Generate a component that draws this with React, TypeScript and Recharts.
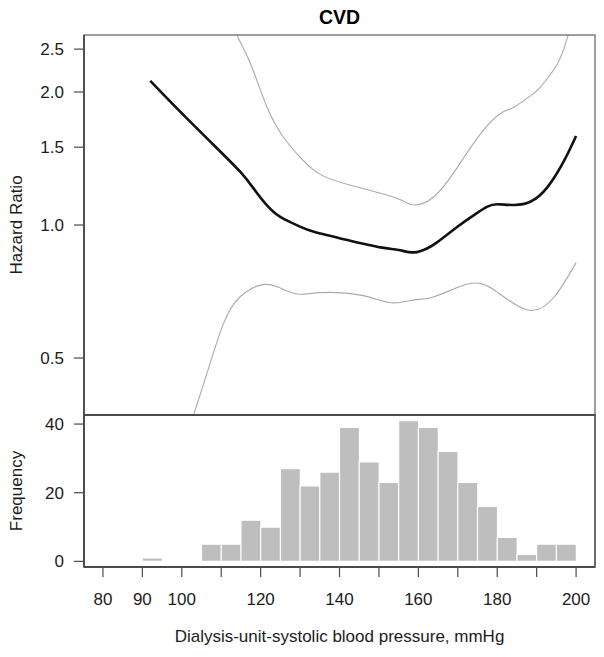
import React from 'react';
import { LineChart, Line, XAxis, YAxis, ComposedChart, Bar, ReferenceArea, ReferenceLine } from 'recharts';

// ---- Data ----
// Hazard ratio estimate (black line)
const estBp = [92.0, 97.9, 106.4, 114.8, 119.1, 123.3, 127.0, 130.1, 133.5, 142.0, 150.4, 155.0, 158.9, 162.3, 165.0, 169.9, 174.1, 177.5, 180.1, 184.3, 188.5, 192.8, 197.0, 200.0];
const estHr = [2.12, 1.87, 1.57, 1.32, 1.18, 1.07, 1.02, 0.99, 0.966, 0.925, 0.89, 0.878, 0.867, 0.886, 0.917, 0.991, 1.053, 1.10, 1.114, 1.11, 1.13, 1.22, 1.40, 1.59];

// Upper confidence band (grey)
const upBp = [113.0, 114.0, 117.4, 121.6, 125.8, 130.1, 135.2, 142.8, 150.4, 155.5, 158.9, 164.0, 169.9, 175.8, 180.9, 184.3, 189.4, 191.1, 195.3, 197.9, 200.0];
const upHr = [2.95, 2.69, 2.32, 1.85, 1.58, 1.42, 1.30, 1.23, 1.18, 1.14, 1.11, 1.16, 1.35, 1.61, 1.79, 1.85, 1.99, 2.06, 2.32, 2.67, 2.98];

// Lower confidence band (grey)
const loBp = [101.5, 103.0, 106.4, 110.6, 114.8, 119.9, 124.2, 129.3, 135.2, 145.4, 153.0, 158.9, 164.0, 172.5, 179.2, 187.7, 194.5, 200.0];
const loHr = [0.34, 0.372, 0.462, 0.599, 0.688, 0.731, 0.725, 0.698, 0.703, 0.694, 0.667, 0.677, 0.688, 0.735, 0.713, 0.642, 0.688, 0.822];

// Histogram (bins of width 5)
const binWidth = 5;
const binStart = [90, 95, 100, 105, 110, 115, 120, 125, 130, 135, 140, 145, 150, 155, 160, 165, 170, 175, 180, 185, 190, 195];
const binCount = [1, 0, 0, 5, 5, 12, 10, 27, 22, 26, 39, 29, 23, 41, 39, 32, 23, 16, 7, 2, 5, 5];

// Axes
const xDomain: [number, number] = [75.2, 204.8];
const xTicks = [80, 90, 100, 110, 120, 130, 140, 150, 160, 170, 180, 190, 200];
const xTickLabels = [80, 90, 100, 120, 140, 160, 180, 200];
const hrDomain: [number, number] = [0.3716, 2.691];
const hrTicks = [0.5, 1.0, 1.5, 2.0, 2.5];
const freqDomain: [number, number] = [-1.64, 42.64];
const freqTicks = [0, 20, 40];

const title = 'CVD';
const hrLabel = 'Hazard Ratio';
const freqLabel = 'Frequency';
const xLabel = 'Dialysis-unit-systolic blood pressure, mmHg';

// ---- Built tables ----
const estimate = estBp.map((x, i) => ({ x, hr: estHr[i] }));
const upper = upBp.map((x, i) => ({ x, hr: upHr[i] }));
const lower = loBp.map((x, i) => ({ x, hr: loHr[i] }));
const histData = binStart.map((s, i) => ({ mid: s + binWidth / 2, n: binCount[i] }));

// ---- Layout / styles ----
const W = 604;
const TOP_PANEL = { left: 84, top: 35, right: 595, bottom: 415 };
const FONT = '"Liberation Sans", Arial, Helvetica, sans-serif';
const AXIS = '#4a4a4a';
const FRAME = '#767676';
const TXT = '#1c1c1c';
const FS = 17;

const tickStyle = { fontSize: FS, fill: TXT, fontFamily: FONT };

const yTitle = (text: string) => (props: any) => {
  const vb = props.viewBox || { x: 0, y: 0, width: 0, height: 0 };
  const cx = vb.x + 21.5;
  const cy = vb.y + vb.height / 2;
  return (
    <text x={cx} y={cy} transform={`rotate(-90 ${cx} ${cy})`} textAnchor="middle" fontSize={FS} fill={TXT} fontFamily={FONT}>
      {text}
    </text>
  );
};

const xTitle = (props: any) => {
  const vb = props.viewBox || { x: 0, y: 0, width: 0, height: 0 };
  return (
    <text x={vb.x + vb.width / 2} y={vb.y + 75} textAnchor="middle" fontSize={FS} fill={TXT} fontFamily={FONT}>
      {xLabel}
    </text>
  );
};

const renderXTick = (props: any) => {
  const { x, y, payload } = props;
  if (!xTickLabels.includes(payload.value)) return <g />;
  return (
    <text x={x} y={y} dy="0.71em" textAnchor="middle" fontSize={FS} fill={TXT} fontFamily={FONT}>
      {payload.value}
    </text>
  );
};

export default function App() {
  const p = TOP_PANEL;
  return (
    <div style={{ position: 'absolute', left: 0, top: 0, width: W, height: 657, background: '#fff', fontFamily: FONT }}>
      <div style={{ position: 'absolute', left: 0, top: 0 }}>
        <LineChart width={W} height={417} data={estimate} margin={{ top: 35, right: 9, bottom: 2, left: 0 }}>
          <XAxis xAxisId="b" dataKey="x" type="number" domain={xDomain} allowDataOverflow hide />
          <YAxis
            yAxisId="l"
            type="number"
            scale="log"
            domain={hrDomain}
            allowDataOverflow
            ticks={hrTicks}
            interval={0}
            width={84}
            tickSize={10}
            tickMargin={10}
            tickFormatter={(v: number) => v.toFixed(1)}
            tick={tickStyle}
            tickLine={{ stroke: AXIS, strokeWidth: 1.2 }}
            axisLine={false}
            label={yTitle(hrLabel)}
          />
          <Line xAxisId="b" yAxisId="l" data={upper} dataKey="hr" type="natural" stroke="#aaaaaa" strokeWidth={1.1} dot={false} isAnimationActive={false} />
          <Line xAxisId="b" yAxisId="l" data={lower} dataKey="hr" type="natural" stroke="#aaaaaa" strokeWidth={1.1} dot={false} isAnimationActive={false} />
          <Line xAxisId="b" yAxisId="l" dataKey="hr" type="natural" stroke="#111111" strokeWidth={2.6} dot={false} isAnimationActive={false} />
        </LineChart>
      </div>
      <svg width={W} height={420} style={{ position: 'absolute', left: 0, top: 0, pointerEvents: 'none' }}>
        <text x={339.5} y={23.5} textAnchor="middle" fontSize={19.5} fontWeight="bold" fill="#000" fontFamily={FONT}>
          {title}
        </text>
        <rect x={p.left} y={p.top} width={p.right - p.left} height={p.bottom - p.top} fill="none" stroke={FRAME} strokeWidth={1.4} />
        <line x1={p.left} y1={p.top} x2={p.left} y2={p.bottom} stroke={AXIS} strokeWidth={1.8} />
      </svg>
      <div style={{ position: 'absolute', left: 0, top: 405 }}>
        <ComposedChart width={W} height={252} data={histData} margin={{ top: 10, right: 9, bottom: 0, left: 0 }} barCategoryGap={0} barGap={0}>
          <XAxis
            dataKey="mid"
            type="number"
            domain={xDomain}
            allowDataOverflow
            ticks={xTicks}
            interval={0}
            height={90}
            tickSize={10}
            tickMargin={16}
            tick={renderXTick}
            tickLine={{ stroke: AXIS, strokeWidth: 1.2 }}
            axisLine={{ stroke: AXIS, strokeWidth: 1.8 }}
            label={xTitle}
          />
          <YAxis
            type="number"
            domain={freqDomain}
            allowDataOverflow
            ticks={freqTicks}
            interval={0}
            width={84}
            tickSize={10}
            tickMargin={10}
            tick={tickStyle}
            tickLine={{ stroke: AXIS, strokeWidth: 1.2 }}
            axisLine={{ stroke: AXIS, strokeWidth: 1.8 }}
            label={yTitle(freqLabel)}
          />
          <Bar dataKey="n" fill="#bebebe" stroke="#ffffff" strokeWidth={1.2} isAnimationActive={false} />
          <ReferenceArea
            x1={xDomain[0]}
            x2={xDomain[1]}
            y1={freqDomain[0]}
            y2={freqDomain[1]}
            fill="none"
            fillOpacity={0}
            stroke={AXIS}
            strokeWidth={1.6}
            ifOverflow="visible"
          />
          <ReferenceLine y={freqDomain[1]} stroke={AXIS} strokeWidth={2.2} ifOverflow="visible" />
        </ComposedChart>
      </div>
    </div>
  );
}
